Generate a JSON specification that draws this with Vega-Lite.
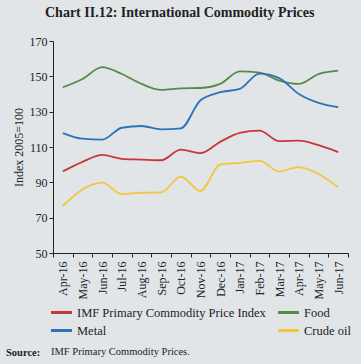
{
  "$schema": "https://vega.github.io/schema/vega-lite/v6.json",
  "background": "#e1e5e8",
  "autosize": {"type": "pad"},
  "padding": {"left": 6, "top": 6, "right": 10, "bottom": 8},
  "title": {"text": "Chart II.12: International Commodity Prices", "anchor": "start", "frame": "group", "dx": -8, "offset": 15, "font": "Liberation Serif", "fontSize": 14, "fontWeight": "bold", "color": "#222222"},
  "resolve": {"scale": {"color": "independent"}},
  "vconcat": [
    {
      "title": {"text": "IMF Primary Commodity Prices.", "orient": "bottom", "anchor": "start", "frame": "group", "dx": -2, "dy": -12, "offset": 0, "font": "Liberation Serif", "fontSize": 10.5, "fontWeight": "normal", "color": "#222222"},
      "resolve": {"scale": {"color": "independent"}},
      "vconcat": [
        {
          "width": 295,
          "height": 212,
          "title": {"text": "Source:", "orient": "bottom", "anchor": "start", "frame": "group", "dx": -47, "offset": 11, "font": "Liberation Serif", "fontSize": 10.5, "fontWeight": "bold", "color": "#222222"},
          "data": {"values": [
            {"month": "Apr-16", "series": "IMF Primary Commodity Price Index", "value": 96.2},
            {"month": "May-16", "series": "IMF Primary Commodity Price Index", "value": 101.6},
            {"month": "Jun-16", "series": "IMF Primary Commodity Price Index", "value": 105.5},
            {"month": "Jul-16", "series": "IMF Primary Commodity Price Index", "value": 103.3},
            {"month": "Aug-16", "series": "IMF Primary Commodity Price Index", "value": 102.9},
            {"month": "Sep-16", "series": "IMF Primary Commodity Price Index", "value": 102.5},
            {"month": "Oct-16", "series": "IMF Primary Commodity Price Index", "value": 108.5},
            {"month": "Nov-16", "series": "IMF Primary Commodity Price Index", "value": 106.5},
            {"month": "Dec-16", "series": "IMF Primary Commodity Price Index", "value": 112.9},
            {"month": "Jan-17", "series": "IMF Primary Commodity Price Index", "value": 118.0},
            {"month": "Feb-17", "series": "IMF Primary Commodity Price Index", "value": 119.3},
            {"month": "Mar-17", "series": "IMF Primary Commodity Price Index", "value": 113.3},
            {"month": "Apr-17", "series": "IMF Primary Commodity Price Index", "value": 113.6},
            {"month": "May-17", "series": "IMF Primary Commodity Price Index", "value": 111.0},
            {"month": "Jun-17", "series": "IMF Primary Commodity Price Index", "value": 107.1},
            {"month": "Apr-16", "series": "Food", "value": 143.8},
            {"month": "May-16", "series": "Food", "value": 148.5},
            {"month": "Jun-16", "series": "Food", "value": 155.2},
            {"month": "Jul-16", "series": "Food", "value": 151.3},
            {"month": "Aug-16", "series": "Food", "value": 145.7},
            {"month": "Sep-16", "series": "Food", "value": 142.3},
            {"month": "Oct-16", "series": "Food", "value": 143.2},
            {"month": "Nov-16", "series": "Food", "value": 143.4},
            {"month": "Dec-16", "series": "Food", "value": 145.7},
            {"month": "Jan-17", "series": "Food", "value": 152.8},
            {"month": "Feb-17", "series": "Food", "value": 152.1},
            {"month": "Mar-17", "series": "Food", "value": 147.6},
            {"month": "Apr-17", "series": "Food", "value": 145.7},
            {"month": "May-17", "series": "Food", "value": 151.3},
            {"month": "Jun-17", "series": "Food", "value": 153.2},
            {"month": "Apr-16", "series": "Metal", "value": 117.9},
            {"month": "May-16", "series": "Metal", "value": 114.7},
            {"month": "Jun-16", "series": "Metal", "value": 114.2},
            {"month": "Jul-16", "series": "Metal", "value": 120.9},
            {"month": "Aug-16", "series": "Metal", "value": 121.9},
            {"month": "Sep-16", "series": "Metal", "value": 120.0},
            {"month": "Oct-16", "series": "Metal", "value": 120.5},
            {"month": "Nov-16", "series": "Metal", "value": 136.5},
            {"month": "Dec-16", "series": "Metal", "value": 141.0},
            {"month": "Jan-17", "series": "Metal", "value": 142.9},
            {"month": "Feb-17", "series": "Metal", "value": 151.5},
            {"month": "Mar-17", "series": "Metal", "value": 149.0},
            {"month": "Apr-17", "series": "Metal", "value": 140.0},
            {"month": "May-17", "series": "Metal", "value": 135.0},
            {"month": "Jun-17", "series": "Metal", "value": 132.6},
            {"month": "Apr-16", "series": "Crude oil", "value": 76.6},
            {"month": "May-16", "series": "Crude oil", "value": 86.0},
            {"month": "Jun-16", "series": "Crude oil", "value": 89.8},
            {"month": "Jul-16", "series": "Crude oil", "value": 83.4},
            {"month": "Aug-16", "series": "Crude oil", "value": 84.1},
            {"month": "Sep-16", "series": "Crude oil", "value": 84.3},
            {"month": "Oct-16", "series": "Crude oil", "value": 93.2},
            {"month": "Nov-16", "series": "Crude oil", "value": 85.1},
            {"month": "Dec-16", "series": "Crude oil", "value": 100.1},
            {"month": "Jan-17", "series": "Crude oil", "value": 101.0},
            {"month": "Feb-17", "series": "Crude oil", "value": 102.2},
            {"month": "Mar-17", "series": "Crude oil", "value": 96.2},
            {"month": "Apr-17", "series": "Crude oil", "value": 98.6},
            {"month": "May-17", "series": "Crude oil", "value": 94.7},
            {"month": "Jun-17", "series": "Crude oil", "value": 87.2}
          ]},
          "mark": {"type": "line", "interpolate": "monotone", "strokeWidth": 1.8},
          "encoding": {
            "x": {"field": "month", "type": "ordinal", "sort": null,
                  "scale": {"type": "band", "paddingInner": 0, "paddingOuter": 0},
                  "axis": {"title": null, "labelAngle": 270, "tickBand": "extent", "labelFontSize": 12, "labelPadding": 4}},
            "y": {"field": "value", "type": "quantitative",
                  "scale": {"domain": [50, 170], "nice": false, "zero": false},
                  "axis": {"values": [50, 70, 90, 110, 130, 150, 170], "grid": false, "title": "Index 2005=100", "titleFont": "Liberation Serif", "titleFontSize": 12, "titleFontWeight": "normal", "titleColor": "#222222", "titlePadding": 4}},
            "color": {"field": "series", "type": "nominal",
                      "scale": {"domain": ["IMF Primary Commodity Price Index", "Food", "Metal", "Crude oil"], "range": ["#c8373a", "#5a8a47", "#2e73b5", "#f5c540"]},
                      "legend": {"title": null, "orient": "bottom", "columns": 2, "symbolType": "M-1.5,0H1.5", "symbolStrokeWidth": 3, "symbolSize": 196, "labelFont": "Liberation Serif", "labelFontSize": 12.5, "labelColor": "#222222", "labelLimit": 300, "labelOffset": 7, "columnPadding": 6, "rowPadding": 3, "offset": 5}}
          }
        }
      ]
    }
  ],
  "config": {
    "view": {"stroke": null},
    "axis": {"labelFont": "Liberation Serif", "labelFontSize": 12, "labelColor": "#222222", "domainColor": "#222222", "tickColor": "#222222", "tickSize": 4, "domainWidth": 1}
  }
}
